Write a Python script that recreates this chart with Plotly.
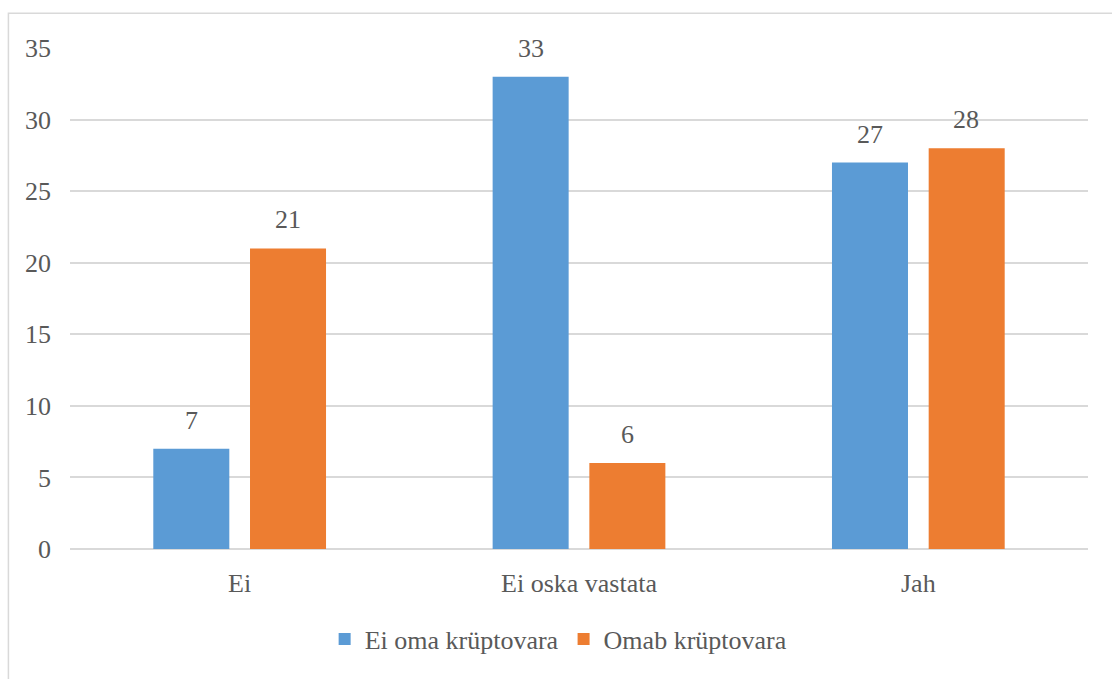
import plotly.graph_objects as go

# Survey answers grouped by crypto ownership
categories = ["Ei", "Ei oska vastata", "Jah"]
series_names = ["Ei oma krüptovara", "Omab krüptovara"]
ei_oma = [7, 33, 27]
omab = [21, 6, 28]
y_ticks = [0, 5, 10, 15, 20, 25, 30, 35]

colors = ["#5B9BD5", "#ED7D31"]
text_color = "#595959"
grid_color = "#D9D9D9"
font_family = "Liberation Serif"
font_size = 26

fig = go.Figure()
for name, vals, col in zip(series_names, [ei_oma, omab], colors):
    fig.add_trace(go.Bar(
        x=categories, y=vals, name=name, marker=dict(color=col, line=dict(width=0)),
    ))

# Value labels above each bar
for i, vals in enumerate([ei_oma, omab]):
    for j, v in enumerate(vals):
        fig.add_annotation(
            x=j, y=v, xref="x", yref="y", text=str(v), showarrow=False,
            yanchor="bottom", yshift=12, xshift=(-1 if i == 0 else 1) * 48,
            font=dict(family=font_family, size=font_size, color=text_color),
        )

# Light frame around the chart area
fig.add_shape(type="rect", xref="paper", yref="paper",
              x0=-0.0605, x1=1.2, y0=-0.6, y1=1.0695,
              line=dict(color=grid_color, width=1.5), layer="below")

fig.update_layout(
    width=1112, height=679,
    margin=dict(l=70, r=24, t=48, b=130),
    paper_bgcolor="white", plot_bgcolor="white",
    barmode="group", bargap=0.43, bargroupgap=0.214,
    font=dict(family=font_family, size=font_size, color=text_color),
    showlegend=True,
    legend=dict(orientation="h", x=0.48, xanchor="center", y=-0.133, yanchor="top",
                font=dict(family=font_family, size=font_size, color=text_color),
                itemwidth=30, traceorder="normal"),
    xaxis=dict(type="category", showgrid=False, showline=False, zeroline=False,
               ticks="", ticklabelstandoff=16,
               tickfont=dict(family=font_family, size=font_size, color=text_color)),
    yaxis=dict(range=[0, 35], tickvals=y_ticks, showgrid=True, gridcolor=grid_color,
               gridwidth=1.5, zeroline=True, zerolinecolor=grid_color, zerolinewidth=1.5,
               showline=False, ticks="", ticklabelstandoff=18,
               tickfont=dict(family=font_family, size=font_size, color=text_color)),
)

fig.write_html("out.html")
